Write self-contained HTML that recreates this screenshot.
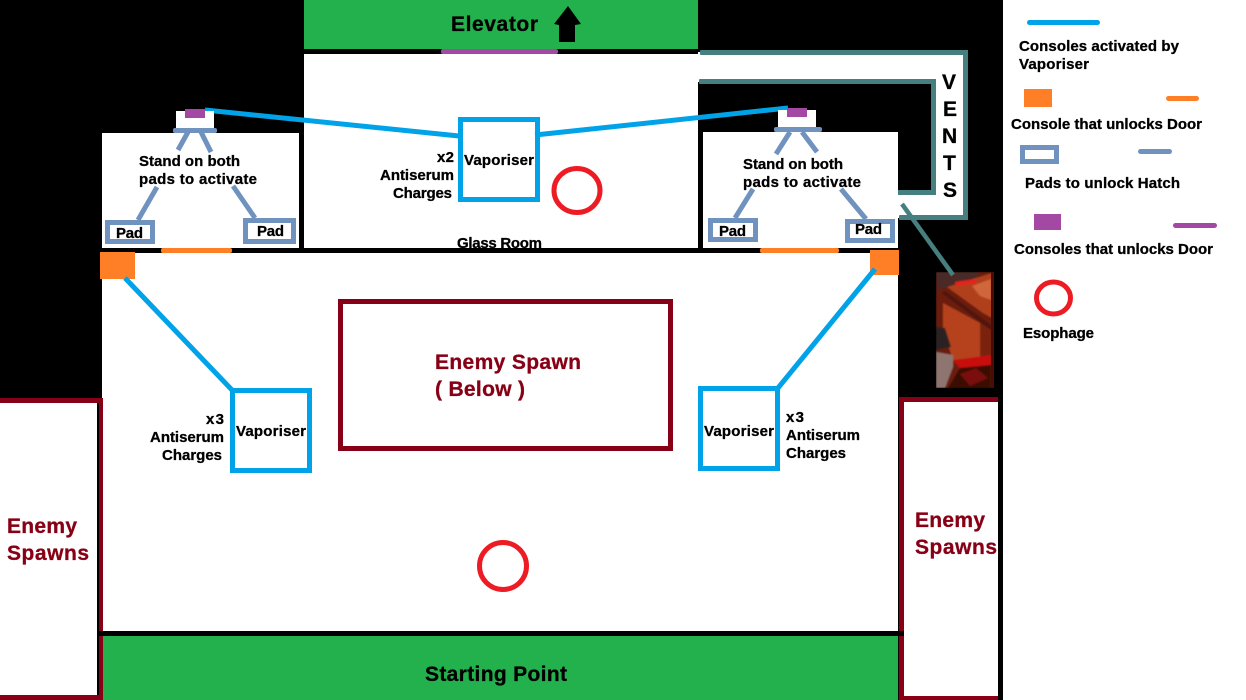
<!DOCTYPE html>
<html lang="en">
<head>
<meta charset="utf-8">
<title>Map diagram</title>
<style>
html,body{margin:0;padding:0;background:#000;width:1246px;height:700px;overflow:hidden}
svg{display:block}
text{font-family:"Liberation Sans",Arial,sans-serif;font-weight:700;fill:#000;stroke:#000;stroke-width:.3px;font-size:15px}
.b{font-size:21px}
.r{fill:#880015;stroke:#880015;font-size:21px}
</style>
</head>
<body>
<svg width="1246" height="700" viewBox="0 0 1246 700" xmlns="http://www.w3.org/2000/svg">
<defs><filter id="soft" x="0" y="0" width="100%" height="100%"><feGaussianBlur stdDeviation="0.7"/></filter></defs>
<rect width="1246" height="700" fill="#000"/>
<!-- legend panel -->
<rect x="1003" y="0" width="243" height="700" fill="#fff"/>

<!-- vents -->
<rect x="698" y="52" width="268" height="30" fill="#fff"/>
<rect x="934" y="52" width="32" height="166" fill="#fff"/>
<rect x="898" y="193" width="68" height="25" fill="#fff"/>

<!-- rooms -->
<rect x="304" y="0" width="394" height="49" fill="#22b14c"/>
<rect x="304" y="54" width="394" height="194" fill="#fff"/>
<rect x="102" y="133" width="197" height="115" fill="#fff"/>
<rect x="703" y="132" width="195" height="116" fill="#fff"/>
<rect x="102" y="253" width="796" height="378" fill="#fff"/>
<rect x="103" y="636" width="795" height="64" fill="#22b14c"/>

<!-- vent outlines -->
<g fill="#467f7f">
<rect x="700" y="50" width="268" height="5" rx="1"/>
<rect x="963" y="50" width="5" height="170"/>
<rect x="899" y="215" width="69" height="5" rx="1"/>
<rect x="699" y="79" width="237" height="5" rx="1"/>
<rect x="931" y="79" width="5" height="116"/>
<rect x="898" y="190" width="38" height="5"/>
</g>

<!-- picture -->
<g filter="url(#soft)">
<rect x="936" y="272" width="58" height="116" fill="#6a1a0a"/>
<polygon points="947,287 992,273 992,318 983,313" fill="#b0401e"/>
<polygon points="972,286 991,279 991,300 980,296" fill="#d0663a"/>
<polygon points="936,272 977,272 978,277 938,290" fill="#4a2a28"/>
<polygon points="955,282 976,279 977,283 956,286" fill="#e8201a"/>
<polygon points="943,303 980,323 980,357 953,360 943,330" fill="#b5431f"/>
<polygon points="980,323 991,330 991,355 980,357" fill="#7a2010"/>
<polygon points="942,293 945,291 991,325 991,330" fill="#4f1507"/>
<polygon points="953,360 991,355 991,367 960,368" fill="#c8100c"/>
<polygon points="948,388 960,368 991,365 991,388" fill="#3a0805"/>
<polygon points="960,374 976,368 988,378 970,386" fill="#7a0f08"/>
<polygon points="936,327 945,328 951,347 936,350" fill="#2a2020"/>
<polygon points="936,352 953,355 953,367 945,388 936,388" fill="#8f7470"/>
</g>
<rect x="991" y="272" width="3" height="116" fill="#4a0c05"/>
<line x1="902" y1="204" x2="953" y2="275" stroke="#467f7f" stroke-width="4.5"/>

<!-- enemy spawn side rooms -->
<rect x="0" y="398" width="103" height="302" fill="#880015"/>
<rect x="97" y="403" width="2" height="292" fill="#000"/>
<rect x="0" y="403" width="97" height="292" fill="#fff"/>
<rect x="899" y="397" width="99" height="303" fill="#880015"/>
<rect x="904" y="402" width="94" height="294" fill="#fff"/>
<rect x="97" y="631" width="807" height="5" fill="#000"/>

<!-- door bars -->
<rect x="441" y="49" width="117" height="5" rx="2" fill="#a349a4"/>
<rect x="161" y="248" width="71" height="5" rx="2" fill="#ff7f27"/>
<rect x="760" y="248" width="79" height="5" rx="2" fill="#ff7f27"/>
<rect x="100" y="252" width="35" height="27" fill="#ff7f27"/>
<rect x="870" y="250" width="29" height="25" fill="#ff7f27"/>

<!-- blue connectors -->
<g stroke="#00a2e8" stroke-width="5" fill="none">
<line x1="205" y1="110" x2="459" y2="136"/>
<line x1="535" y1="135" x2="788" y2="108"/>
<line x1="125" y1="278" x2="232" y2="390"/>
<line x1="778" y1="388" x2="875" y2="269"/>
<rect x="460.500" y="119.500" width="77" height="80"/>
<rect x="232.500" y="390.500" width="77" height="80"/>
<rect x="700.500" y="388.500" width="77" height="80"/>
</g>

<!-- spawn box -->
<rect x="340.500" y="301.500" width="330" height="147" fill="none" stroke="#880015" stroke-width="5"/>

<!-- left pads -->
<rect x="176" y="111" width="38" height="17" fill="#fff"/>
<rect x="185" y="109" width="20" height="9" fill="#a349a4"/>
<rect x="173" y="128" width="44" height="5" rx="2" fill="#7092be"/>
<g stroke="#7092be" stroke-width="5" fill="none">
<line x1="178" y1="150" x2="188" y2="132"/>
<line x1="201" y1="132" x2="211" y2="152"/>
<line x1="157" y1="187" x2="138" y2="220"/>
<line x1="233" y1="186" x2="255" y2="218"/>
<rect x="107.500" y="222.500" width="45" height="19"/>
<rect x="245.500" y="220.500" width="48" height="21"/>
</g>

<!-- right pads -->
<rect x="778" y="110" width="38" height="18" fill="#fff"/>
<rect x="787" y="108" width="20" height="9" fill="#a349a4"/>
<rect x="774" y="127" width="48" height="5" rx="2" fill="#7092be"/>
<g stroke="#7092be" stroke-width="5" fill="none">
<line x1="776" y1="154" x2="790" y2="132"/>
<line x1="802" y1="132" x2="817" y2="152"/>
<line x1="753" y1="189" x2="735" y2="218"/>
<line x1="841" y1="189" x2="866" y2="219"/>
<rect x="710.500" y="220.500" width="45" height="19"/>
<rect x="847.500" y="221.500" width="45" height="19"/>
</g>

<!-- esophage circles -->
<g fill="none" stroke="#ed1c24" stroke-width="5">
<ellipse cx="577" cy="190.500" rx="23" ry="22"/>
<circle cx="503" cy="566" r="23.500"/>
<ellipse cx="1053.500" cy="298" rx="17" ry="16"/>
</g>

<!-- arrow -->
<polygon points="568,6 581,24 575,25 575,42 559,42 559,25 554,24" fill="#000"/>

<!-- labels -->
<text class="b" x="451" y="31" textLength="87" lengthAdjust="spacing">Elevator</text>
<text x="464" y="165" textLength="70" lengthAdjust="spacing">Vaporiser</text>
<text x="437" y="162" textLength="17" lengthAdjust="spacing">x2</text>
<text x="380" y="180" textLength="74" lengthAdjust="spacing">Antiserum</text>
<text x="393" y="198" textLength="59" lengthAdjust="spacing">Charges</text>
<text x="457" y="248" textLength="85" lengthAdjust="spacing">Glass Room</text>

<text x="139" y="166" textLength="101" lengthAdjust="spacing">Stand on both</text>
<text x="139" y="184" textLength="118" lengthAdjust="spacing">pads to activate</text>
<text x="116" y="238" textLength="27" lengthAdjust="spacing">Pad</text>
<text x="257" y="236" textLength="27" lengthAdjust="spacing">Pad</text>

<text x="743" y="169" textLength="100" lengthAdjust="spacing">Stand on both</text>
<text x="743" y="187" textLength="118" lengthAdjust="spacing">pads to activate</text>
<text x="719" y="236" textLength="27" lengthAdjust="spacing">Pad</text>
<text x="855" y="234" textLength="27" lengthAdjust="spacing">Pad</text>

<text x="206" y="424" textLength="18" lengthAdjust="spacing">x3</text>
<text x="150" y="442" textLength="74" lengthAdjust="spacing">Antiserum</text>
<text x="162" y="460" textLength="60" lengthAdjust="spacing">Charges</text>
<text x="236" y="436" textLength="70" lengthAdjust="spacing">Vaporiser</text>

<text x="704" y="436" textLength="70" lengthAdjust="spacing">Vaporiser</text>
<text x="786" y="422" textLength="18" lengthAdjust="spacing">x3</text>
<text x="786" y="440" textLength="74" lengthAdjust="spacing">Antiserum</text>
<text x="786" y="458" textLength="60" lengthAdjust="spacing">Charges</text>

<text class="r" x="435" y="369" textLength="146" lengthAdjust="spacing">Enemy Spawn</text>
<text class="r" x="435" y="396" textLength="90" lengthAdjust="spacing">( Below )</text>
<text class="r" x="7" y="533" textLength="70" lengthAdjust="spacing">Enemy</text>
<text class="r" x="7" y="560" textLength="82" lengthAdjust="spacing">Spawns</text>
<text class="r" x="915" y="527" textLength="70" lengthAdjust="spacing">Enemy</text>
<text class="r" x="915" y="554" textLength="82" lengthAdjust="spacing">Spawns</text>
<text class="b" x="425" y="681" textLength="142" lengthAdjust="spacing">Starting Point</text>

<!-- VENTS -->
<text class="b" x="942" y="89">V</text>
<text class="b" x="943" y="116">E</text>
<text class="b" x="942" y="143">N</text>
<text class="b" x="943" y="170">T</text>
<text class="b" x="943" y="197">S</text>

<!-- legend -->
<rect x="1027" y="20" width="73" height="5" rx="2.500" fill="#00a2e8"/>
<text x="1019" y="51" textLength="160" lengthAdjust="spacing">Consoles activated by</text>
<text x="1019" y="69" textLength="70" lengthAdjust="spacing">Vaporiser</text>
<rect x="1024" y="89" width="28" height="18" fill="#ff7f27"/>
<rect x="1166" y="96" width="33" height="5" rx="2.500" fill="#ff7f27"/>
<text x="1011" y="129" textLength="191" lengthAdjust="spacing">Console that unlocks Door</text>
<rect x="1022.500" y="147.500" width="34" height="14" fill="none" stroke="#7092be" stroke-width="5"/>
<rect x="1138" y="149" width="34" height="5" rx="2.500" fill="#7092be"/>
<text x="1025" y="188" textLength="155" lengthAdjust="spacing">Pads to unlock Hatch</text>
<rect x="1034" y="214" width="27" height="16" fill="#a349a4"/>
<rect x="1173" y="223" width="44" height="5" rx="2.500" fill="#a349a4"/>
<text x="1014" y="254" textLength="199" lengthAdjust="spacing">Consoles that unlocks Door</text>
<text x="1023" y="338" textLength="71" lengthAdjust="spacing">Esophage</text>
</svg>
</body>
</html>
